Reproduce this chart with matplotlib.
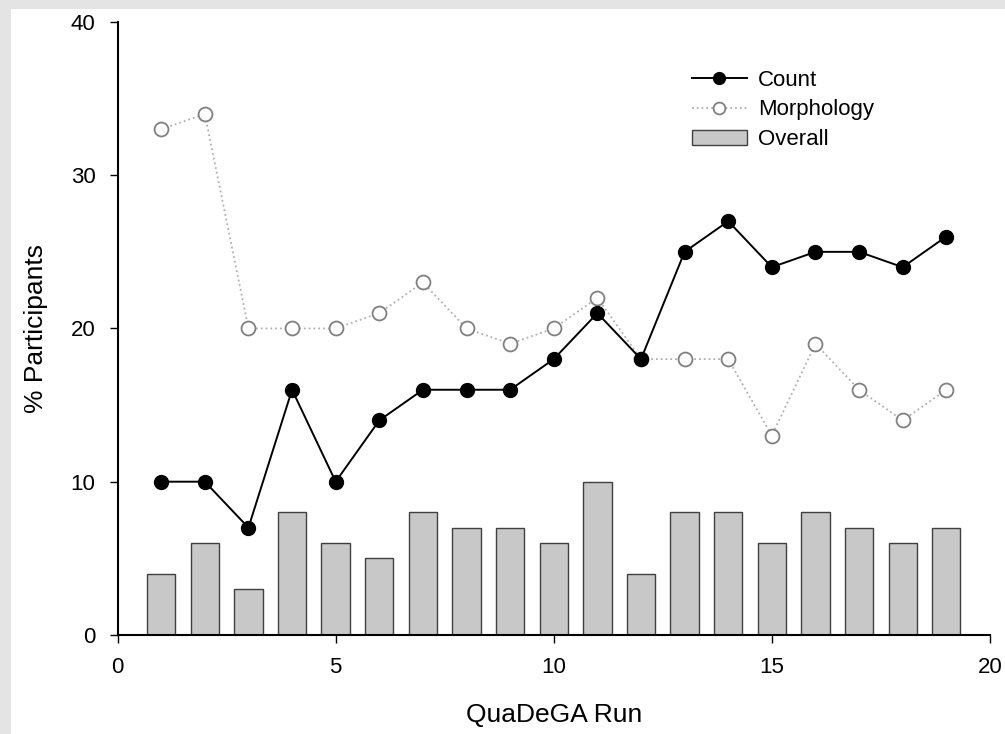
import numpy as np
import matplotlib.pyplot as plt

plt.rcParams['font.family'] = ['Liberation Sans', 'DejaVu Sans']

# ----------- data -----------------------------------------------------------
runs = [1, 2, 3, 4, 5, 6, 7, 8, 9, 10, 11, 12, 13, 14, 15, 16, 17, 18, 19]
overall = [4, 6, 3, 8, 6, 5, 8, 7, 7, 6, 10, 4, 8, 8, 6, 8, 7, 6, 7]
count = [10, 10, 7, 16, 10, 14, 16, 16, 16, 18, 21, 18, 25, 27, 24, 25, 25, 24, 26]
morphology = [33, 34, 20, 20, 20, 21, 23, 20, 19, 20, 22, 18, 18, 18, 13, 19, 16, 14, 16]

# ----------- figure ---------------------------------------------------------
fig = plt.figure(figsize=(10.05, 7.34), dpi=100)
fig.patch.set_facecolor('#e4e4e4')

# white page inside the grey border
bg = fig.add_axes([0.011, 0.0, 0.989, 0.988], zorder=-1)
bg.set_facecolor('white')
bg.set_xticks([])
bg.set_yticks([])
for sp in bg.spines.values():
    sp.set_visible(False)

ax = fig.add_axes([0.117, 0.135, 0.868, 0.835], zorder=1)
ax.set_facecolor('none')

bars = ax.bar(runs, overall, width=0.65, color='#c8c8c8', edgecolor='#404040',
              linewidth=1.0, zorder=2)
l_count, = ax.plot(runs, count, color='black', linewidth=1.4, marker='o',
                   markersize=10, markerfacecolor='black', zorder=4)
l_morph, = ax.plot(runs, morphology, color='#b0b0b0', linewidth=1.3,
                   linestyle=':', marker='o', markersize=10,
                   markerfacecolor='white', markeredgecolor='#808080',
                   markeredgewidth=1.3, zorder=3)

ax.set_xlim(0, 20)
ax.set_ylim(0, 40)
ax.set_xticks([0, 5, 10, 15, 20])
ax.set_yticks([0, 10, 20, 30, 40])
ax.spines['top'].set_visible(False)
ax.spines['right'].set_visible(False)
ax.spines['left'].set_linewidth(1.5)
ax.spines['bottom'].set_linewidth(1.5)
ax.tick_params(direction='out', length=6, width=1, labelsize=16, pad=10)

ax.set_xlabel('QuaDeGA Run', fontsize=19, labelpad=18)
ax.set_ylabel('% Participants', fontsize=19, labelpad=16)

ax.legend([l_count, l_morph, bars], ['Count', 'Morphology', 'Overall'],
          loc='upper left', bbox_to_anchor=(0.635, 0.955), frameon=False,
          fontsize=16, handlelength=2.5, handletextpad=0.5, labelspacing=0.4,
          markerscale=0.85)

fig.savefig('out.png', dpi=100, facecolor=fig.get_facecolor())
